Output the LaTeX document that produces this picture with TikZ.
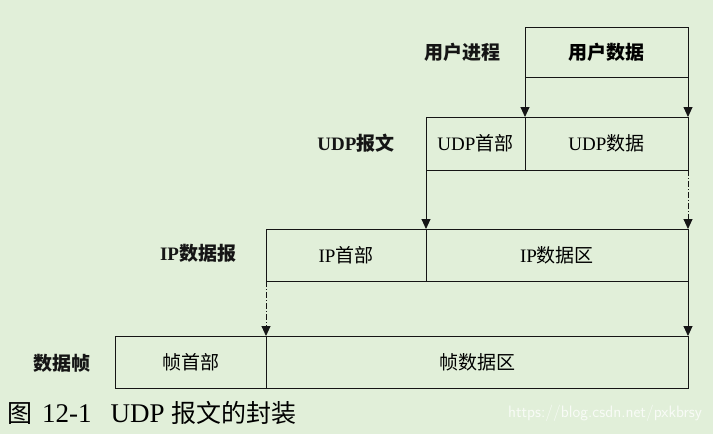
\documentclass[tikz,border=0pt]{standalone}
\usepackage{fontspec}
\setmainfont{Liberation Serif}
\newfontfamily\cjk{Noto Sans CJK SC}
\usetikzlibrary{arrows.meta,positioning}
\definecolor{paperbg}{HTML}{E1EFD9}
\definecolor{lineink}{HTML}{151515}
\newcommand{\zh}[1]{{\cjk #1}}

\begin{document}
\begin{tikzpicture}[
  x=1pt,y=-1pt,
  cell/.style={draw=lineink,line width=0.9pt,inner sep=0pt,outer sep=0pt,
    minimum height=52pt,font=\fontsize{19}{22}\selectfont},
  layer/.style={font=\fontsize{19}{22}\selectfont\bfseries,text=lineink},
  arr/.style={-{Triangle[length=10pt,width=9pt]},line width=0.9pt,lineink},
  dasharr/.style={arr,dash pattern=on 6pt off 2pt on 1pt off 2pt}
]
\useasboundingbox[fill=paperbg] (0,0) rectangle (713,434);

% the four layers
\node[cell,anchor=north west,minimum width=163pt,minimum height=50pt] (ud) at (525,27)
  {\zh{\bfseries 用户数据}};
\node[cell,anchor=north west,minimum width=99pt,minimum height=53pt] (udph) at (426,117)
  {UDP\zh{首部}};
\node[cell,right=0pt of udph,minimum width=163pt,minimum height=53pt] (udpd)
  {UDP\zh{数据}};
\node[cell,anchor=north west,minimum width=160pt] (iph) at (266,229) {IP\zh{首部}};
\node[cell,right=0pt of iph,minimum width=262pt] (ipd) {IP\zh{数据区}};
\node[cell,anchor=north west,minimum width=151pt] (fh) at (115,336) {\zh{帧首部}};
\node[cell,right=0pt of fh,minimum width=422pt] (fd) {\zh{帧数据区}};

% layer names
\node[layer] (lud) at (462,52) {\zh{用户进程}};
\node[layer] (ludp) at (356,143) {UDP\zh{报文}};
\node[layer] (lip) at (198,253) {IP\zh{数据报}};
\node[layer] (lfr) at (62,363) {\zh{数据帧}};

\draw[arr] (ud.south west) -- (udpd.north west);
\draw[arr] (ud.south east) -- (udpd.north east);
\draw[arr] (udph.south west) -- (ipd.north west);
\draw[dasharr] (udpd.south east) -- (ipd.north east);
\draw[dasharr] (iph.south west) -- (fd.north west);
\draw[arr] (ipd.south east) -- (fd.north east);

\node[anchor=west,inner sep=0pt,font=\fontsize{25}{27}\selectfont] (cap) at (7,413)
  {\zh{图}\hspace{10pt}\fontsize{27}{27}\selectfont 12-1\hspace{19pt}UDP \fontsize{25}{27}\selectfont\zh{报文的封装}};
\node[font=\fontsize{16.5}{18}\selectfont\sffamily,text=white!75!paperbg] (mark) at (605,413)
  {https://blog.csdn.net/pxkbrsy};
\end{tikzpicture}
\end{document}
